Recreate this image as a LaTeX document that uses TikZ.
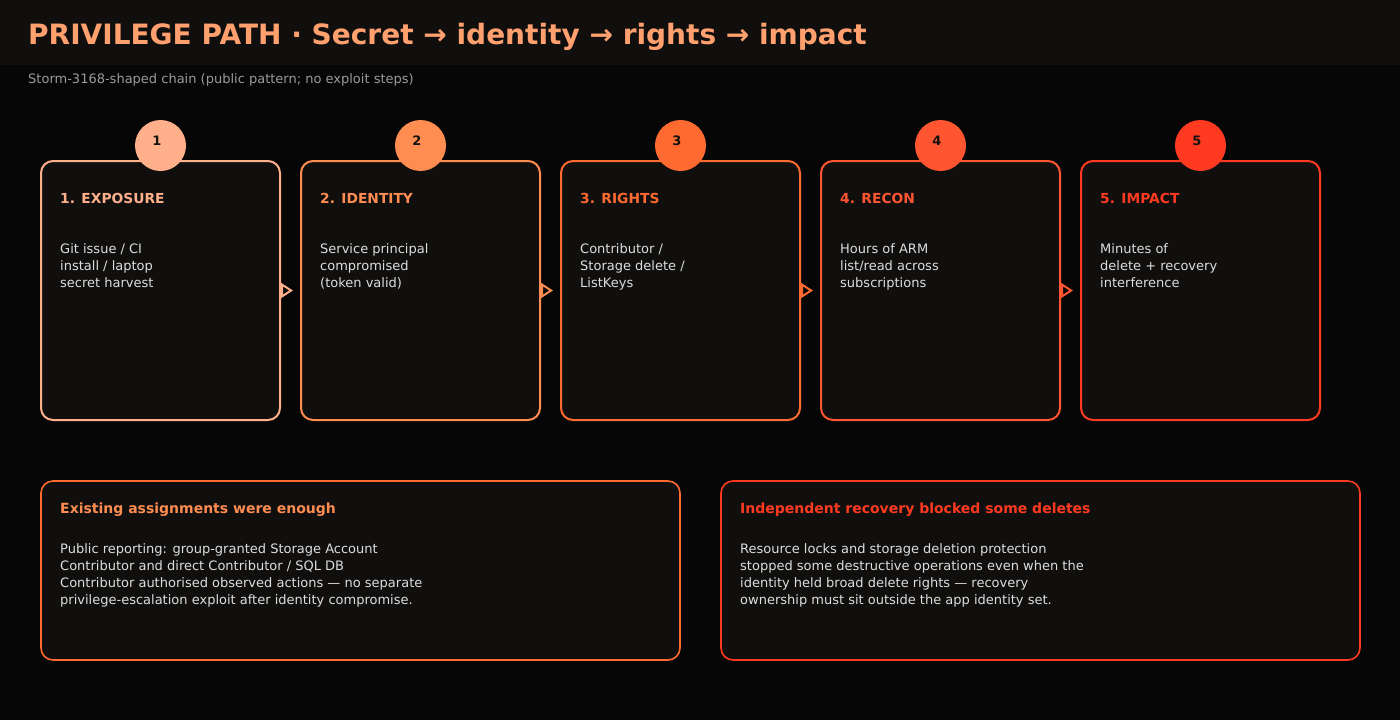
\documentclass[tikz,border=0pt]{standalone}
\usepackage{fontspec}
\setmainfont{DejaVu Sans}
\usetikzlibrary{arrows.meta}
\definecolor{pagebg}{HTML}{060606}
\definecolor{headbg}{HTML}{110F0E}
\definecolor{cardbg}{HTML}{100F0E}
\definecolor{bodytxt}{HTML}{DDDDDD}
\definecolor{subtxt}{HTML}{9A9A9A}
\definecolor{numtxt}{HTML}{141210}
\definecolor{titletxt}{HTML}{FFA06E}
\definecolor{c1}{HTML}{FFB08A}
\definecolor{c2}{HTML}{FF8C50}
\definecolor{c3}{HTML}{FF6A30}
\definecolor{c4}{HTML}{FF5530}
\definecolor{c5}{HTML}{FF3A20}
\begin{document}
\begin{tikzpicture}[x=1pt, y=-1pt,
    card/.style={draw=#1, fill=cardbg, line width=2pt, rounded corners=12pt,
      minimum width=239pt, minimum height=259pt, inner sep=0pt},
    panel/.style={draw=#1, fill=cardbg, line width=1.6pt, rounded corners=12pt,
      minimum width=639pt, minimum height=179pt, inner sep=0pt},
    badge/.style={circle, fill=#1, minimum size=51pt, inner sep=0pt},
    num/.style={anchor=base, inner sep=0pt, text=numtxt,
      font=\fontsize{13}{13}\selectfont\bfseries},
    ttl/.style={anchor=base west, inner sep=0pt, text=#1,
      font=\fontsize{13.8}{16}\selectfont\bfseries},
    body/.style={anchor=north west, inner sep=0pt, align=left, text=bodytxt,
      font=\fontsize{13}{17}\selectfont},
    flow/.style={draw=#1, line width=2pt,
      -{Triangle[open, length=12pt, width=15pt]}, shorten >=7pt}]

    % Fondo y cabecera
    \fill[pagebg] (0,0) rectangle (1400,720);
    \fill[headbg] (0,0) rectangle (1400,65);
    \useasboundingbox (0,0) rectangle (1400,720);
    \node[anchor=base west, inner sep=0pt, text=titletxt,
      font=\fontsize{28}{32}\selectfont\bfseries] (title) at (28,44)
      {PRIVILEGE PATH · Secret → identity → rights → impact};
    \node[anchor=base west, inner sep=0pt, text=subtxt,
      font=\fontsize{13}{15}\selectfont] (subtitle) at (28,83)
      {Storm-3168-shaped chain (public pattern; no exploit steps)};

    % Tarjetas de la cadena
    \node[card=c1] (exposure) at (160.5,290.5) {};
    \node[card=c2] (identity) at (420.5,290.5) {};
    \node[card=c3] (rights)   at (680.5,290.5) {};
    \node[card=c4] (recon)    at (940.5,290.5) {};
    \node[card=c5] (impact)   at (1200.5,290.5) {};

    % Flechas entre tarjetas
    \draw[flow=c1] (exposure.east) -- (identity.west);
    \draw[flow=c2] (identity.east) -- (rights.west);
    \draw[flow=c3] (rights.east) -- (recon.west);
    \draw[flow=c4] (recon.east) -- (impact.west);

    % Circulos numerados
    \node[badge=c1] (b1) at (160.5,145.5) {};
    \node[badge=c2] (b2) at (420.5,145.5) {};
    \node[badge=c3] (b3) at (680.5,145.5) {};
    \node[badge=c4] (b4) at (940.5,145.5) {};
    \node[badge=c5] (b5) at (1200.5,145.5) {};
    \node[num] (n1) at (157,145) {1};
    \node[num] (n2) at (417,145) {2};
    \node[num] (n3) at (677,145) {3};
    \node[num] (n4) at (937,145) {4};
    \node[num] (n5) at (1197,145) {5};

    % Textos de las tarjetas
    \node[ttl=c1] (t1) at (60,203) {1. EXPOSURE};
    \node[ttl=c2] (t2) at (320,203) {2. IDENTITY};
    \node[ttl=c3] (t3) at (580,203) {3. RIGHTS};
    \node[ttl=c4] (t4) at (840,203) {4. RECON};
    \node[ttl=c5] (t5) at (1100,203) {5. IMPACT};
    \node[body] (d1) at (60,243) {Git issue / CI\\install / laptop\\secret harvest};
    \node[body] (d2) at (320,243) {Service principal\\compromised\\(token valid)};
    \node[body] (d3) at (580,243) {Contributor /\\Storage delete /\\ListKeys};
    \node[body] (d4) at (840,243) {Hours of ARM\\list/read across\\subscriptions};
    \node[body] (d5) at (1100,243) {Minutes of\\delete + recovery\\interference};

    % Paneles inferiores
    \node[panel=c3] (enough) at (360.5,570.5) {};
    \node[panel=c5] (recovery) at (1040.5,570.5) {};
    \node[ttl=c2, font=\fontsize{14}{16}\selectfont\bfseries] (et) at (60,513)
      {Existing assignments were enough};
    \node[ttl=c5, font=\fontsize{14}{16}\selectfont\bfseries] (rt) at (740,513)
      {Independent recovery blocked some deletes};
    \node[body] (ed) at (60,543) {Public reporting: group-granted Storage Account\\Contributor and direct Contributor / SQL DB\\Contributor authorised observed actions — no separate\\privilege-escalation exploit after identity compromise.};
    \node[body] (rd) at (740,543) {Resource locks and storage deletion protection\\stopped some destructive operations even when the\\identity held broad delete rights — recovery\\ownership must sit outside the app identity set.};
\end{tikzpicture}
\end{document}
